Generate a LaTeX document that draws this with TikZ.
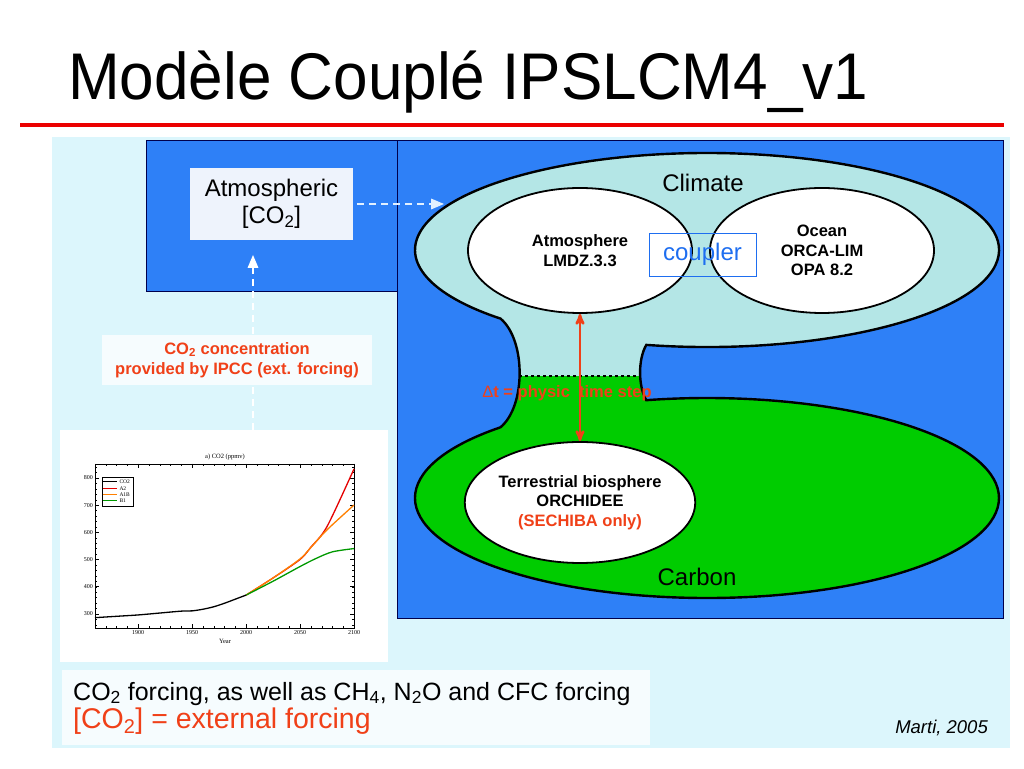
\documentclass[tikz,border=0pt]{standalone}
\usepackage{fontspec}
\setmainfont{Liberation Sans}
\newfontfamily\chartfont{Liberation Serif}
\usetikzlibrary{arrows,shapes.geometric}

\definecolor{paneltint}{RGB}{220,246,252}
\definecolor{oceanblue}{RGB}{46,128,247}
\definecolor{climtint}{RGB}{180,230,230}
\definecolor{carbongreen}{RGB}{0,204,0}
\definecolor{forcered}{RGB}{240,64,24}
\definecolor{couplerblue}{RGB}{30,110,240}
\definecolor{arrowtint}{RGB}{226,240,255}
\definecolor{boxtint}{RGB}{238,243,252}
\definecolor{notetint}{RGB}{246,252,254}

\newcommand\blobpath{(646.3,423.1) arc[start angle=258,end angle=585,x radius=292,y radius=97]
 .. controls (526,428) and (526,362) .. (500.5,340.7)
 arc[start angle=135,end angle=462,x radius=292,y radius=100]
 .. controls (638,382) and (638,409) .. cycle}

\tikzset{
 modelbox/.style={ellipse, draw=black, line width=1.8pt, fill=white, inner sep=0, align=center, font=\fontsize{16.5}{19.5}\selectfont\bfseries},
 textbox/.style={rectangle, inner sep=0, align=center},
 forcearrow/.style={arrowtint, line width=2pt, dash pattern=on 7pt off 5pt, -triangle 45},
 chartlabel/.style={inner sep=1pt, font=\chartfont\fontsize{6}{6}\selectfont},
}

\begin{document}
\begin{tikzpicture}[x=1pt,y=1pt]
\useasboundingbox (0,0) rectangle (1024,768);
\fill[white] (0,0) rectangle (1024,768);
\node[anchor=base west, xscale=.94, inner sep=0, font=\fontsize{66}{66}\selectfont] (title) at (68,668) {Modèle Couplé IPSLCM4\_v1};
\draw[red!92!black, line width=4pt] (20,643) -- (1004,643);
\fill[paneltint] (52,20) rectangle (1010,631);
\filldraw[fill=oceanblue, draw=blue!30!black, thin] (146,477) rectangle (397,628);
\filldraw[fill=oceanblue, draw=blue!30!black, thin] (397,150) rectangle (1003,628);

\fill[carbongreen] \blobpath;
\begin{scope}
 \clip (400,392) rectangle (1003,628);
 \fill[climtint] \blobpath;
\end{scope}
\draw[black, line width=1.5pt, dashed] (519,392) -- (640,392);
\draw[black, line width=2.4pt] \blobpath;

\node[font=\fontsize{24}{24}\selectfont] (climlabel) at (703,585) {Climate};
\node[font=\fontsize{24}{24}\selectfont] (carblabel) at (697,191) {Carbon};
\node[modelbox, minimum width=224pt, minimum height=125pt] (atmos) at (580,517.5) {Atmosphere\\LMDZ.3.3};
\node[modelbox, minimum width=224pt, minimum height=125pt] (ocean) at (822,517.5) {Ocean\\ORCA-LIM\\OPA 8.2};
\node[draw=couplerblue, thin, minimum width=107pt, minimum height=43pt, text=couplerblue, font=\fontsize{24}{24}\selectfont] (coupler) at (702.5,513.5) {coupler};
\node[modelbox, minimum width=226pt, minimum height=121pt] (terre) at (580,265.5) {Terrestrial biosphere\\ORCHIDEE\\\textcolor{forcered}{(SECHIBA only)}};

\node[text=forcered, inner sep=0, font=\fontsize{16.5}{16.5}\selectfont\bfseries] (timestep) at (567,375) {{\mdseries Δ}t = physic\ \ time step};
\draw[forcered, line width=2.5pt, <->, >=stealth'] (atmos.south) -- (terre.north);

\node[textbox, fill=boxtint, minimum width=163pt, minimum height=72pt, font=\fontsize{24}{27}\selectfont] (atmco2) at (271.5,564) {Atmospheric\\{}[CO\textsubscript{2}]};
\node[fill=white, minimum width=328pt, minimum height=232pt, inner sep=0] (chart) at (224,222) {};
\coordinate (uptip) at (253,513);
\coordinate (climin) at (444,564);
\draw[forcearrow, white] (chart.north -| uptip) -- (uptip);
\draw[forcearrow] ([xshift=4pt]atmco2.east) -- (climin);
\node[textbox, fill=notetint, minimum width=270pt, minimum height=50pt, text=forcered, font=\fontsize{16.5}{20}\selectfont\bfseries] (ipcc) at (237,408) {CO\textsubscript{2} concentration\\provided by IPCC (ext. forcing)};

\begin{scope}[shift={(95,140)}, x=1.0792pt, y=0.272pt]
 \draw[thin] (0,0) rectangle (240,603);
 \foreach \x in {0,10,...,240} {
  \draw[very thin] (\x,0) --++(0,2pt);
  \draw[very thin] (\x,603) --++(0,-2pt);
 }
 \foreach \y in {12,32,...,592} {
  \draw[very thin] (0,\y) --++(2pt,0);
  \draw[very thin] (240,\y) --++(-2pt,0);
 }
 \foreach \x/\yr in {40/1900, 90/1950, 140/2000, 190/2050, 240/2100} {
  \draw[thin] (\x,0) --++(0,4pt);
  \draw[thin] (\x,603) --++(0,-4pt);
  \node[chartlabel, below, yshift=-1] at (\x,0) {\yr};
 }
 \foreach \y/\ppm in {52/300, 152/400, 252/500, 352/600, 452/700, 552/800} {
  \draw[thin] (0,\y) --++(4pt,0);
  \draw[thin] (240,\y) --++(-4pt,0);
  \node[chartlabel, left, xshift=-1] at (0,\y) {\ppm};
 }
 \draw[red!90!black, line width=1.3pt] plot[smooth] coordinates {(140,121) (165,184) (190,252) (200,297) (215,373) (240,585)};
 \draw[orange, line width=1.3pt] plot[smooth] coordinates {(140,121) (165,184) (190,254) (200,296) (215,361) (240,452)};
 \draw[green!60!black, line width=1.3pt] plot[smooth] coordinates {(140,121) (165,172) (190,226) (205,256) (220,280) (240,292)};
 \draw[black, line width=1.3pt] plot[smooth] coordinates {(0,38) (20,43) (40,48) (60,55) (80,62) (90,63) (100,69) (110,78) (120,91) (130,106) (140,121)};
\end{scope}
\node[chartlabel, font=\chartfont\fontsize{6.5}{6.5}\selectfont] (charttitle) at (225,311) {a) CO2 (ppmv)};
\node[chartlabel, font=\chartfont\fontsize{6.5}{6.5}\selectfont] (chartyear) at (225,127) {Year};
\draw[very thin] (101.7,262) rectangle (132.7,291.3);
\foreach \c/\lab/\y in {black/CO2/286.3, red!90!black/A2/279.7, orange/A1B/273, green!60!black/B1/267} {
 \draw[\c, line width=1pt] (103.3,\y) -- (117.3,\y);
 \node[chartlabel, anchor=west, inner sep=0, font=\chartfont\fontsize{5.5}{5.5}\selectfont] at (119.3,\y) {\lab};
}

\node[textbox, anchor=south west, fill=notetint, minimum width=588pt, minimum height=75pt] (forcing) at (62,23) {};
\node[anchor=base west, inner sep=0, font=\fontsize{25}{25}\selectfont] (otherforcing) at (73,68) {CO\textsubscript{2} forcing, as well as CH\textsubscript{4}, N\textsubscript{2}O and CFC forcing};
\node[anchor=base west, inner sep=0, text=forcered, font=\fontsize{28.5}{28.5}\selectfont] (extforcing) at (73,39.7) {[CO\textsubscript{2}] = external forcing};
\node[anchor=base east, inner sep=0, font=\fontsize{18.5}{18.5}\selectfont\itshape] (credit) at (988,35) {Marti, 2005};
\end{tikzpicture}
\end{document}
